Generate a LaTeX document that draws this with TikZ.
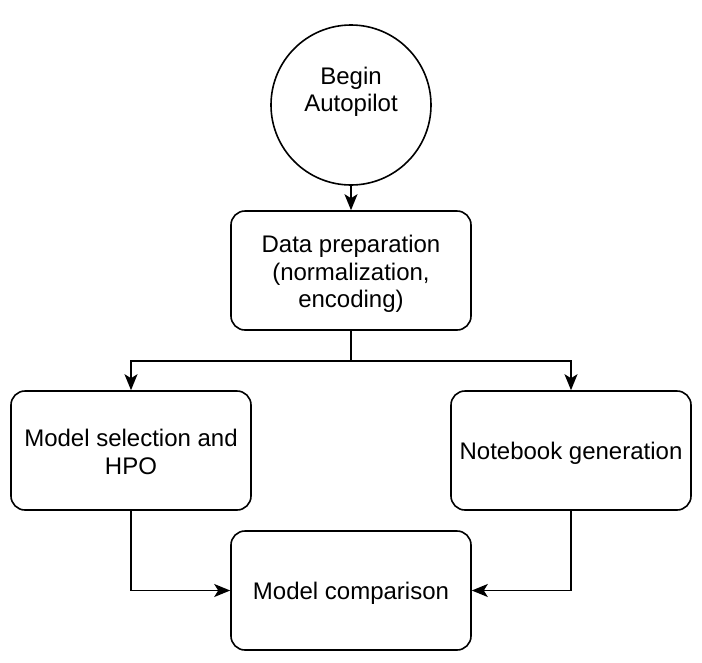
\documentclass[tikz,border=0pt]{standalone}
\usepackage{fontspec}
\setmainfont{Liberation Sans}
\usetikzlibrary{arrows.meta}
\begin{document}
\begin{tikzpicture}[x=1pt,y=-1pt,
  every node/.style={font=\fontsize{24}{27.5}\selectfont, align=center},
  box/.style={draw, line width=1.6pt, rounded corners=14pt, minimum width=240pt, minimum height=119pt, inner sep=0pt},
  circ/.style={draw, line width=1.6pt, circle, minimum size=160pt, inner sep=0pt},
  conn/.style={line width=1.6pt, -{Stealth[length=16pt,width=13pt,inset=4pt]}}
]
\useasboundingbox (0,0) rectangle (702,662);
\node[circ] (begin) at (351,105) {};
\node (begin-t) at (351,92) {Begin\\Autopilot};
\node[box] (prep) at (351,270.5) {};
\node (prep-t) at (351,274) {Data preparation\\(normalization,\\encoding)};
\node[box] (sel) at (131,450.5) {};
\node (sel-t) at (131,452) {Model selection and\\HPO};
\node[box] (nb) at (571,450.5) {};
\node (nb-t) at (571,453) {Notebook generation};
\node[box] (cmp) at (351,590.5) {};
\node (cmp-t) at (351,593) {Model comparison};
\coordinate (split) at (351,361);
\draw[conn] (begin) -- (prep);
\draw[line width=1.6pt] (prep.south) -- (split);
\draw[conn] (split) -| (sel.north);
\draw[conn] (split) -| (nb.north);
\draw[conn] (sel.south) |- (cmp.west);
\draw[conn] (nb.south) |- (cmp.east);
\end{tikzpicture}
\end{document}
